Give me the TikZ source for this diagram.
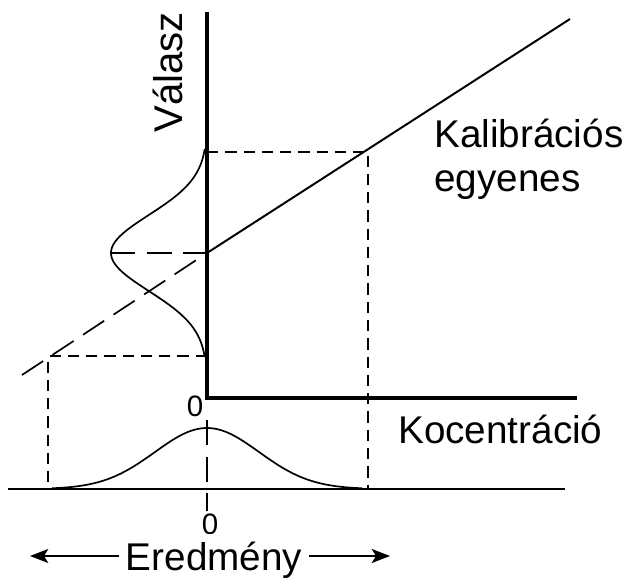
\documentclass[tikz,border=0pt]{standalone}
\usepackage{fontspec}
\setmainfont{Liberation Sans}
\usetikzlibrary{arrows.meta,positioning}

\begin{document}
\begin{tikzpicture}[
  x=0.025cm, y=-0.025cm,
  font=\fontsize{27.5}{31}\selectfont,
  every node/.append style={inner sep=0pt},
  axis/.style={line width=2.8pt},
  calib/.style={line width=1.4pt},
  guide/.style={line width=1.2pt, dash pattern=on 8pt off 5pt},
  longdash/.style={line width=1.2pt, dash pattern=on 18pt off 8pt},
  curve/.style={line width=1.2pt},
  arr/.style={-{Stealth[length=13pt, width=10pt, inset=3pt]}, line width=1.2pt},
  zero/.style={font=\fontsize{21}{25}\selectfont},
]
\useasboundingbox (0,0) rectangle (641,579);
% key points
\coordinate (O) at (207,398);
\coordinate (ytop) at (207,12);
\coordinate (xend) at (577,398);
\coordinate (c0) at (207,253);
\coordinate (cend) at (570,19);
\coordinate (cext) at (22,375);
\coordinate (hi) at (368,152);
\coordinate (lo) at (48,356);
\coordinate (peakL) at (110,253);
\coordinate (hiY) at (207,152);
\coordinate (loY) at (207,356);
\coordinate (bl) at (8,489);
\coordinate (br) at (565,489);
\coordinate (hiB) at (368,489);
\coordinate (loB) at (48,489);
\coordinate (zt) at (207,420);
\coordinate (zb) at (207,511);
\coordinate (tipL) at (30,556);
\coordinate (tipR) at (390,556);
% axes
\draw[axis] (ytop) -- (O) -- (xend);
\draw[curve] (bl) -- (br);
% calibration line
\draw[calib] (c0) -- (cend);
\draw[longdash] (cext) -- (c0);
\draw[longdash] (peakL) -- (c0);
% guides
\draw[guide] (hiY) -- (hi) -- (hiB);
\draw[guide] (loY) -- (lo) -- (loB);
\draw[longdash] (zt) -- (zb);
% distributions
\draw[curve] plot[domain=-10.4:10.4, samples=80]
  ({207-96*exp(-(\x*\x)/(2*3.8*3.8))}, {253+10*\x});
\draw[curve] plot[domain=-15.5:15.5, samples=90]
  ({207+10*\x}, {489-61*exp(-(\x*\x)/(2*5.2*5.2))});
% labels
\node[rotate=90, anchor=base west, font=\fontsize{28.5}{32}\selectfont] (valasz) at (183,133) {Válasz};
\node[anchor=north west, align=left] (kalib) at (434,119) {Kalibrációs\\egyenes};
\node[anchor=base west] (konc) at (398,443) {Kocentráció};
\node[zero] (zeroO) at (195,406) {0};
\begin{scope}
  \clip (190,511) rectangle (232,533);
  \node[zero, anchor=north] (zeroE) at (210,514) {0};
\end{scope}
\node[anchor=base, inner xsep=5pt, text height=20pt, text depth=6pt] (eredm) at (214,570) {Eredmény};
\draw[arr] (eredm.west |- tipL) -- (tipL);
\draw[arr] (eredm.east |- tipR) -- (tipR);
\end{tikzpicture}
\end{document}
